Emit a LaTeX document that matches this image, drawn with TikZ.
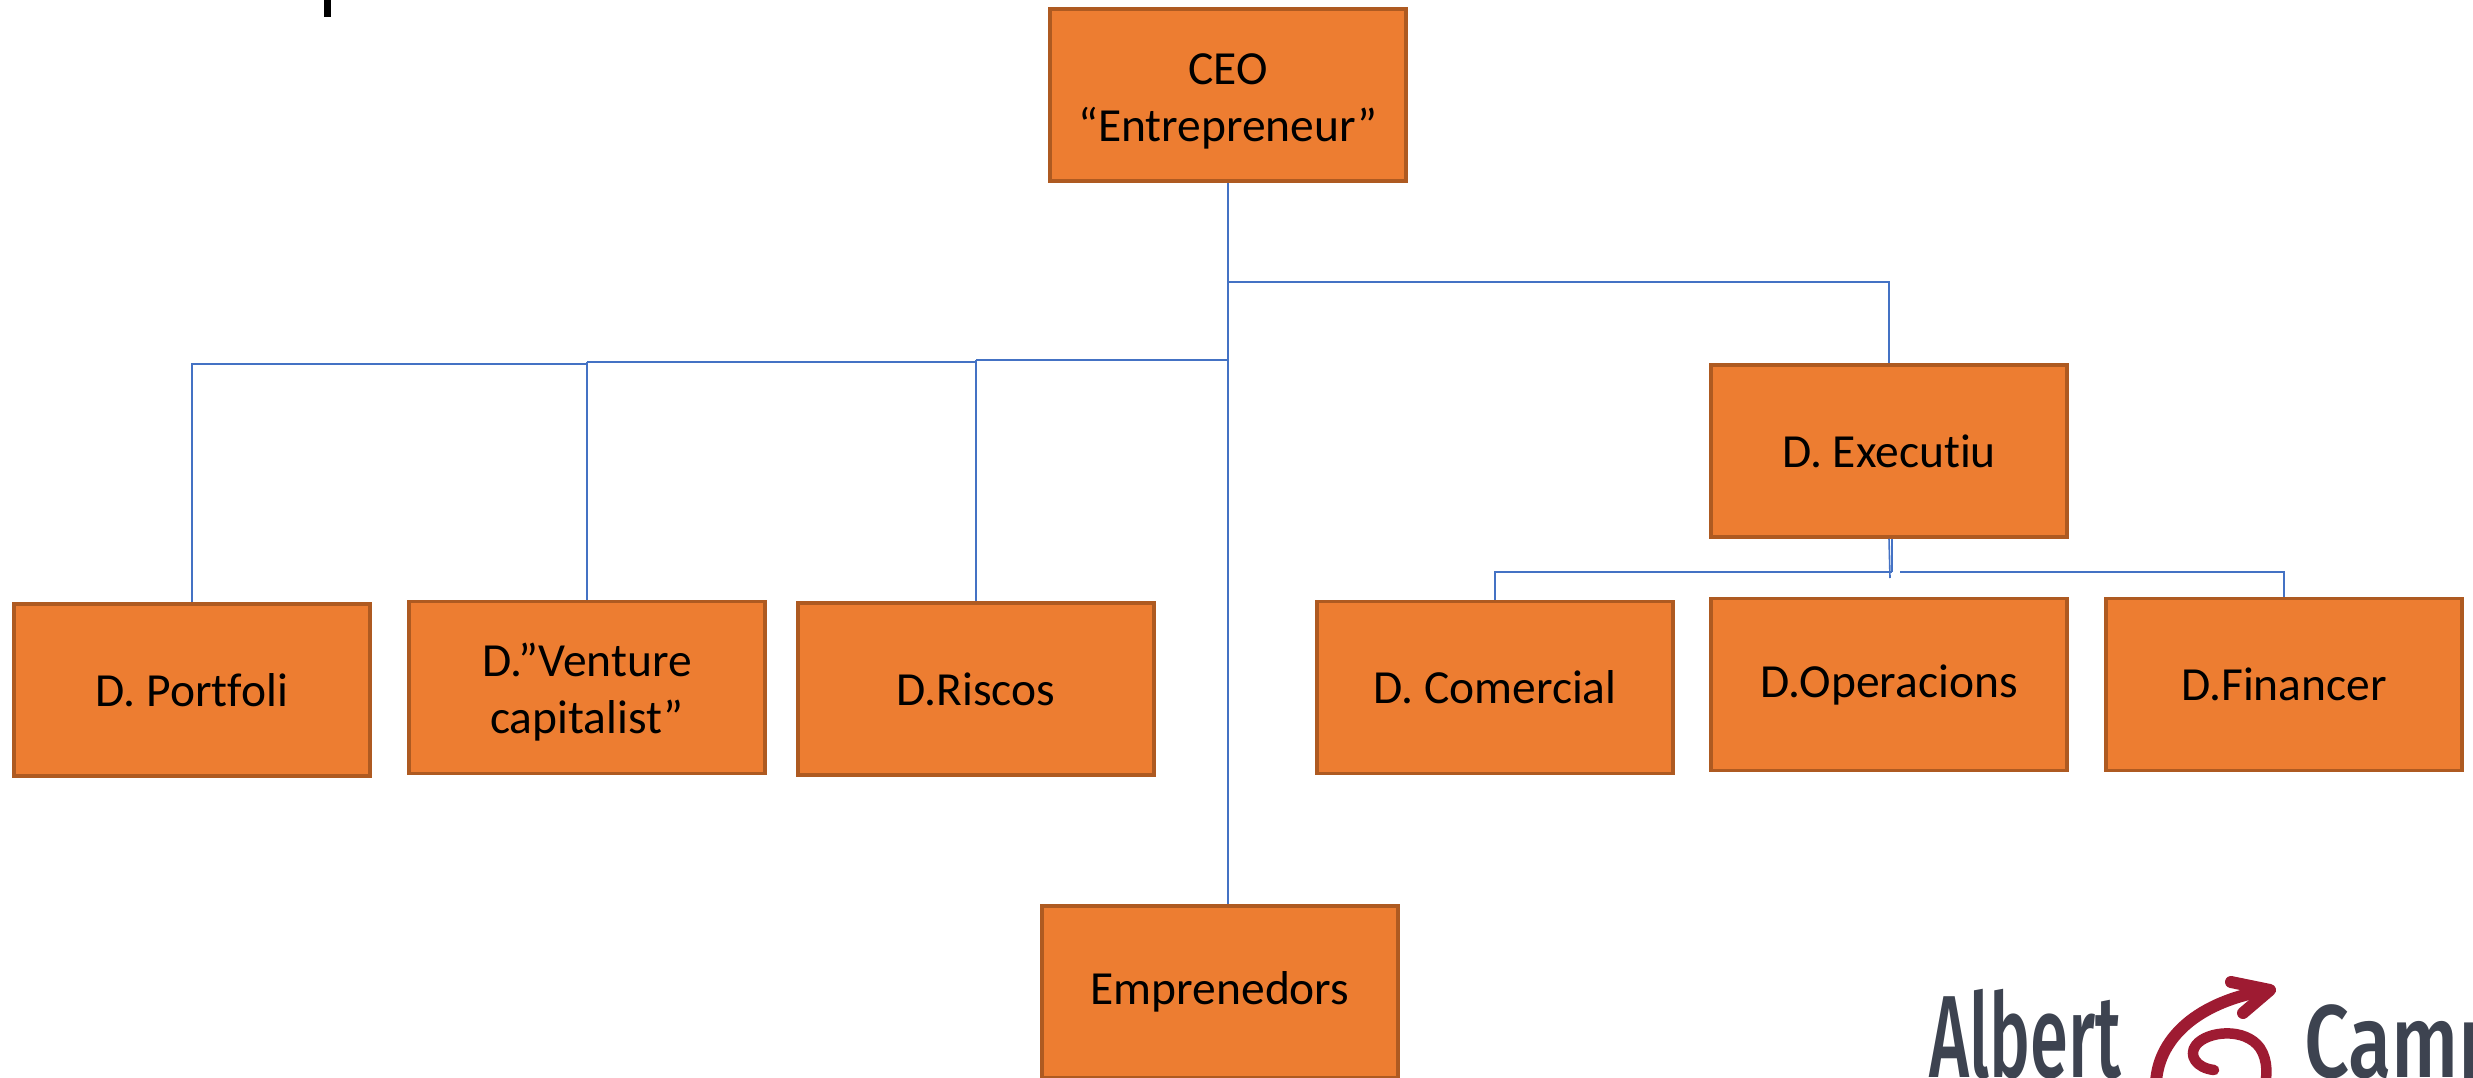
\documentclass[tikz,border=0pt]{standalone}
\usepackage{graphicx}
\usepackage{fontspec}
\setmainfont[Ligatures=CommonOff]{Carlito}
\newfontfamily\logofont{Fira Sans Medium}
\definecolor{boxfill}{HTML}{ED7D31}
\definecolor{boxedge}{HTML}{AE5A21}
\definecolor{linkblue}{HTML}{4472C4}
\definecolor{logoink}{HTML}{3D4350}
\definecolor{logored}{HTML}{9E1B32}
\newcommand{\lowerblock}{\rule{0pt}{43pt}}
\tikzset{
  orgbox/.style={draw=boxedge,fill=boxfill,line width=3.5pt,minimum width=356pt,minimum height=172pt,
    inner sep=0pt,align=center,text=black,font=\fontsize{47.5}{57}\selectfont},
  link/.style={draw=linkblue,line width=1.6pt},
  linkbold/.style={draw=linkblue,line width=2.2pt},
  logotext/.style={inner sep=0pt,anchor=base west,text=logoink,font=\logofont\fontsize{86}{86}\selectfont},
  logostroke/.style={draw=logored,line cap=round,line join=round}
}
\begin{document}
\begin{tikzpicture}[x=1pt,y=-1pt]
\useasboundingbox (0,0) rectangle (2473,1078);
\clip (0,0) rectangle (2473,1078);
\fill[black] (324,0) rectangle (331,17);

\node[orgbox] (ceo) at (1228,95) {\lowerblock CEO\\“Entrepreneur”};
\node[orgbox] (exec) at (1889,451) {D. Executiu};
\node[orgbox] (port) at (192,690) {D. Portfoli};
\node[orgbox] (vent) at (587,687.5) {\lowerblock D.”Venture\\capitalist”};
\node[orgbox] (risc) at (976,689) {D.Riscos};
\node[orgbox] (emp) at (1220,992) {Emprenedors};
\node[orgbox] (com) at (1495,687.5) {D. Comercial};
\node[orgbox] (ope) at (1889,684.5) {D.Operacions};
\node[orgbox] (fin) at (2284,684.5) {D.Financer};

\coordinate (spine1) at (1228,282);
\coordinate (spine2) at (1228,360);
\coordinate (mid1) at (976,362);
\coordinate (mid2) at (587,364);
\coordinate (drop) at (1890,578);
\coordinate (rgap) at (1900,572);
\coordinate (lbus) at (1892,572);

\draw[link] (ceo.south -| spine1) -- (emp.north -| spine1);
\draw[link] (spine1) -- (spine1 -| exec.north) -- (exec.north);
\draw[linkbold] (spine2) -- (spine2 -| risc.north);
\draw[link] (spine2 -| risc.north) -- (risc.north);
\draw[linkbold] (mid1) -- (mid1 -| vent.north);
\draw[link] (mid1 -| vent.north) -- (vent.north);
\draw[linkbold] (mid2) -- (mid2 -| port.north) -- (port.north);
\draw[link] (exec.south) -- (drop);
\draw[link] (exec.south -| lbus) -- (lbus);
\draw[linkbold] (lbus) -- (lbus -| com.north) -- (com.north);
\draw[linkbold] (rgap) -- (rgap -| fin.north) -- (fin.north);

\node[logotext] (albert) at (1929,1077) {\scalebox{.80}[1.36]{Albert}};
\node[logotext] (camp) at (2304,1077) {\scalebox{.92}[1.2]{Camp}};
\draw[logostroke,line width=12pt] (2156,1090) .. controls (2154,1045) and (2190,1003) .. (2268,990);
\draw[logostroke,line width=12pt] (2231,982) -- (2270,990) -- (2243,1013);
\draw[logostroke,line width=10.5pt] (2214,1070) .. controls (2196,1068) and (2188,1055) .. (2196,1045)
  .. controls (2207,1031) and (2245,1027) .. (2260,1048)
  .. controls (2268,1060) and (2268,1078) .. (2263,1090);
\end{tikzpicture}
\end{document}
